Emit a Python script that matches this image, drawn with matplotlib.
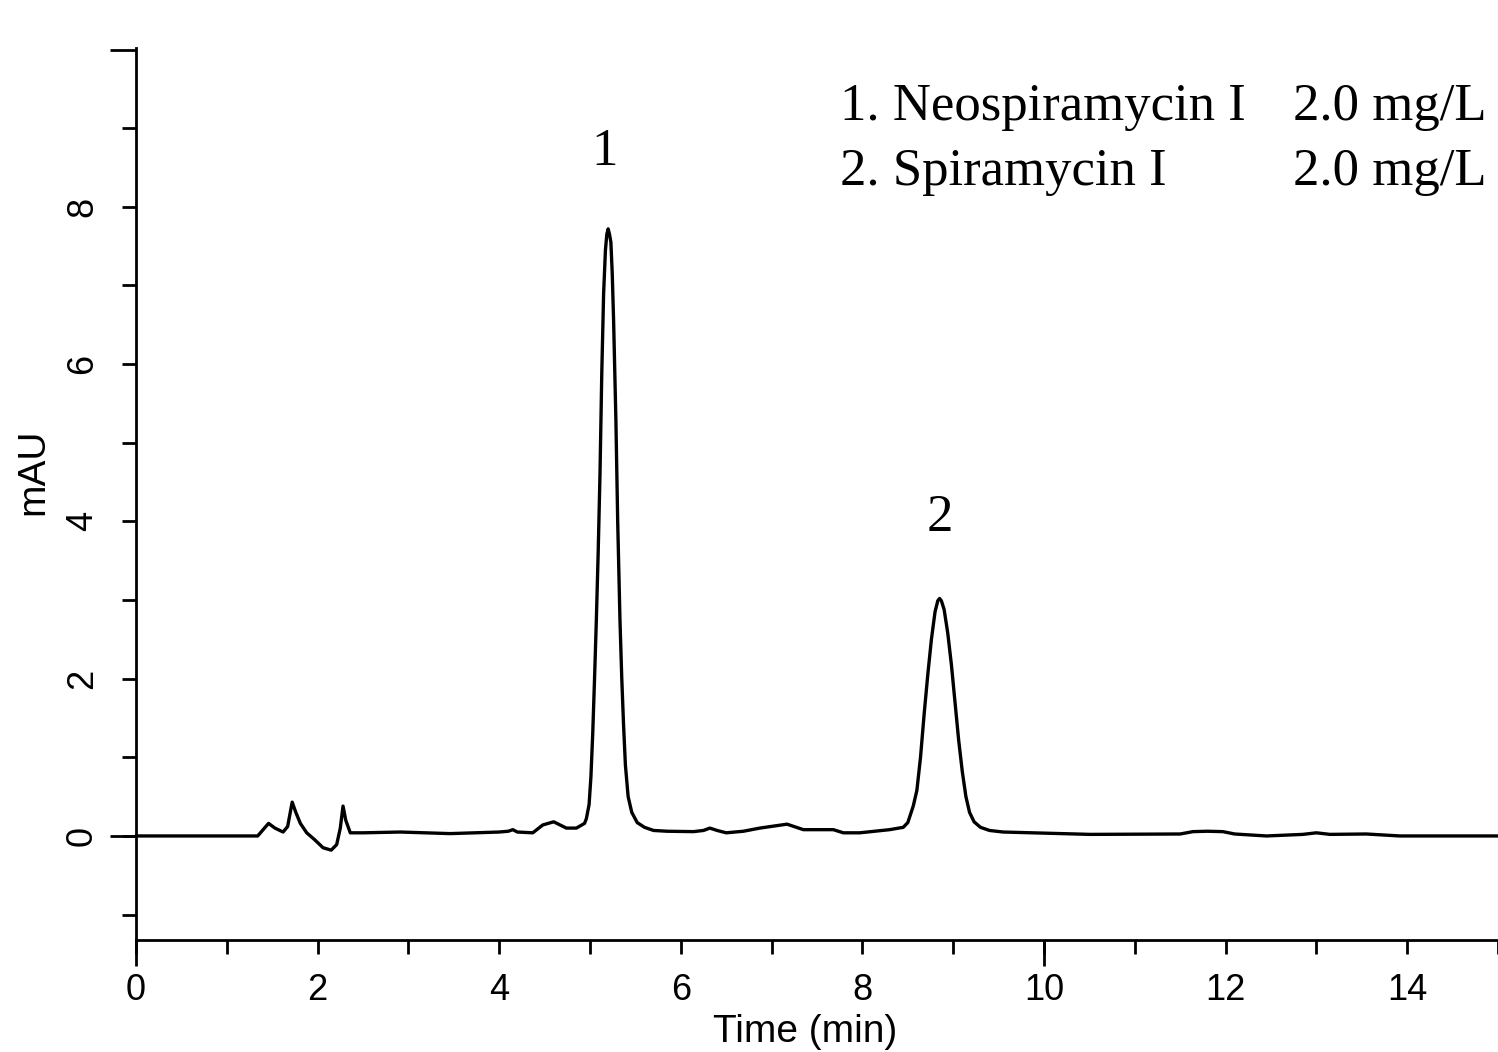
import matplotlib
matplotlib.use("Agg")
import matplotlib.pyplot as plt

# ---- data ----
time_min = [0.00, 1.00, 1.34, 1.40, 1.46, 1.53, 1.62, 1.67, 1.72, 1.76, 1.81, 1.88, 1.97,
            2.06, 2.15, 2.21, 2.25, 2.28, 2.31, 2.36, 2.50, 2.91, 3.46, 4.00, 4.10, 4.15,
            4.20, 4.37, 4.48, 4.60, 4.74, 4.85, 4.94, 4.96, 4.99, 5.01, 5.03, 5.05, 5.07,
            5.09, 5.11, 5.13, 5.15, 5.17, 5.185, 5.20, 5.215, 5.23, 5.245, 5.26, 5.285,
            5.305, 5.33, 5.35, 5.37, 5.39, 5.42, 5.46, 5.52, 5.60, 5.70, 5.85, 6.14, 6.25,
            6.32, 6.40, 6.50, 6.69, 6.87, 7.17, 7.35, 7.68, 7.79, 7.97, 8.30, 8.45, 8.50,
            8.56, 8.60, 8.64, 8.68, 8.72, 8.76, 8.80, 8.83, 8.85, 8.87, 8.90, 8.94, 8.98,
            9.02, 9.06, 9.10, 9.14, 9.18, 9.23, 9.30, 9.40, 9.55, 10.51, 11.50, 11.64,
            11.80, 11.97, 12.10, 12.45, 12.85, 13.00, 13.15, 13.55, 13.92, 15.00]
mau = [0.00, 0.00, 0.00, 0.08, 0.16, 0.10, 0.05, 0.12, 0.43, 0.30, 0.16, 0.04, -0.05,
       -0.15, -0.18, -0.11, 0.10, 0.38, 0.20, 0.04, 0.04, 0.05, 0.03, 0.05, 0.06, 0.08,
       0.05, 0.04, 0.14, 0.18, 0.10, 0.10, 0.16, 0.22, 0.40, 0.75, 1.30, 2.00, 2.75,
       3.60, 4.60, 5.90, 6.90, 7.45, 7.65, 7.72, 7.65, 7.55, 7.15, 6.55, 5.30,
       4.00, 2.75, 2.00, 1.40, 0.90, 0.50, 0.30, 0.17, 0.11, 0.07, 0.06, 0.055, 0.07,
       0.10, 0.07, 0.04, 0.06, 0.10, 0.15, 0.08, 0.08, 0.04, 0.04, 0.08, 0.11, 0.17,
       0.38, 0.58, 1.00, 1.55, 2.05, 2.50, 2.85, 2.99, 3.02, 2.99, 2.88, 2.58, 2.18,
       1.70, 1.22, 0.82, 0.50, 0.30, 0.18, 0.11, 0.07, 0.05, 0.02, 0.025, 0.055,
       0.06, 0.055, 0.025, 0.00, 0.02, 0.04, 0.02, 0.025, 0.00, 0.00]

x_ticks = list(range(0, 16))
x_tick_labels = ["0", "", "2", "", "4", "", "6", "", "8", "", "10", "", "12", "", "14", ""]
y_ticks = list(range(-1, 10))
y_tick_labels = ["", "0", "", "2", "", "4", "", "6", "", "8", ""]
long_x_ticks = [0, 10]
long_y_ticks = [0, 10]

peak_labels = ["1", "2"]
peak_label_pos = [(5.165, 8.70), (8.85, 4.04)]
legend_names = ["1. Neospiramycin I", "2. Spiramycin I"]
legend_conc = ["2.0 mg/L", "2.0 mg/L"]

# ---- figure ----
fig = plt.figure(figsize=(14.98, 10.52), dpi=100)
ax = fig.add_axes([136 / 1498, 1 - 940 / 1052, 1362 / 1498, 892 / 1052])

ax.plot(time_min, mau, color="black", lw=2.4, solid_joinstyle="round",
        solid_capstyle="round", clip_on=False)

ax.set_xlim(0, 15)
ax.set_ylim(-1.323, 10.02)

for s in ["top", "right"]:
    ax.spines[s].set_visible(False)
for s in ["left", "bottom"]:
    ax.spines[s].set_linewidth(2.0)

sans = "Liberation Sans"
serif = "Liberation Serif"

ax.xaxis.remove_overlapping_locs = False
ax.yaxis.remove_overlapping_locs = False
ax.set_xticks(x_ticks)
ax.set_xticklabels(x_tick_labels, fontfamily=sans, fontsize=26)
ax.set_yticks(y_ticks)
ax.set_yticklabels(y_tick_labels, fontfamily=sans, fontsize=26, rotation=90, va="center")
ax.set_xticks(long_x_ticks, minor=True)
ax.set_yticks(long_y_ticks, minor=True)

ax.tick_params(axis="both", which="major", direction="out", length=10, width=2.0)
ax.tick_params(axis="both", which="minor", direction="out", length=19, width=2.0)
ax.tick_params(axis="x", which="major", pad=14)
ax.tick_params(axis="y", which="major", pad=16)

ax.set_xlabel("Time (min)", fontfamily=sans, fontsize=28)
ax.xaxis.set_label_coords(0.491, -0.083)
ax.set_ylabel("mAU", fontfamily=sans, fontsize=28)
ax.yaxis.set_label_coords(-0.062, 0.5247)

for lab, (px, py) in zip(peak_labels, peak_label_pos):
    ax.text(px, py, lab, fontfamily=serif, fontsize=38, ha="center", va="center")

base_y = [9.11, 8.28]
for name, conc, by in zip(legend_names, legend_conc, base_y):
    ax.text(7.75, by, name, fontfamily=serif, fontsize=38, ha="left", va="baseline")
    ax.text(12.74, by, conc, fontfamily=serif, fontsize=38, ha="left", va="baseline")

fig.savefig("out.png", dpi=100)
